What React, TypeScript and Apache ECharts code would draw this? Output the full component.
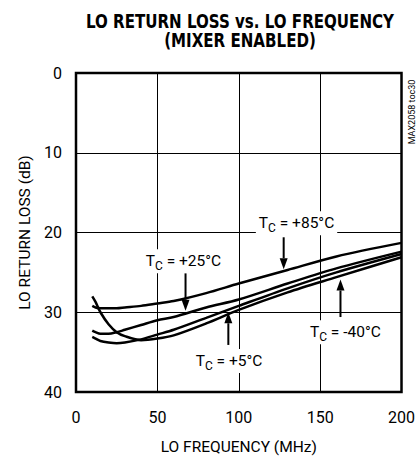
import React, { useEffect, useRef } from "react";
import * as echarts from "echarts";

const freqMHz = [10, 12, 15, 20, 25, 30, 40, 50, 60, 80, 100, 130, 160, 200];
const rlPlus85 = [29.2, 29.4, 29.5, 29.5, 29.5, 29.4, 29.2, 28.9, 28.6, 27.6, 26.4, 24.7, 23.0, 21.3];
const rlPlus25 = [32.3, 32.5, 32.7, 32.7, 32.5, 32.2, 31.6, 31.0, 30.6, 29.4, 28.4, 26.4, 24.5, 22.4];
const rlPlus5 = [33.1, 33.3, 33.6, 33.8, 33.9, 33.8, 33.4, 32.8, 32.2, 30.7, 29.2, 27.0, 25.0, 22.7];
const rlMinus40 = [28.0, 28.7, 30.0, 31.5, 32.5, 33.0, 33.5, 33.3, 32.9, 31.4, 29.7, 27.5, 25.6, 23.1];

const seriesNames = ["TC = +85°C", "TC = +25°C", "TC = +5°C", "TC = -40°C"];
const tempLabels = ["+85°C", "+25°C", "+5°C", "-40°C"];
const titleLines = ["LO RETURN LOSS vs. LO FREQUENCY", "(MIXER ENABLED)"];

// annotation anchors in data units: label center, arrow start, arrow tip
const annotations = [
  { label: [135.5, 18.85], from: [127.6, 20.6], to: [127.6, 24.6] },
  { label: [66, 23.6], from: [67.3, 25.1], to: [67.3, 29.8] },
  { label: [94, 36.1], from: [93.6, 34.1], to: [93.6, 30.0] },
  { label: [165.5, 32.5], from: [162.5, 30.6], to: [162.5, 25.9] },
];

const FONT = "Roboto, 'DejaVu Sans Condensed', sans-serif";
const TITLE_FONT = "'DejaVu Sans Condensed', 'DejaVu Sans', sans-serif";

export default function App() {
  const ref = useRef<HTMLDivElement>(null);
  useEffect(() => {
    if (!ref.current) return;
    const chart = echarts.init(ref.current, undefined, { renderer: "svg" });
    const allSeries = [rlPlus85, rlPlus25, rlPlus5, rlMinus40];
    chart.setOption({
      animation: false,
      backgroundColor: "#fff",
      grid: { left: 76, top: 73, width: 329, height: 329, show: true, borderColor: "#000", borderWidth: 2.5, backgroundColor: "transparent" },
      xAxis: {
        type: "value",
        min: 0,
        max: 200,
        interval: 50,
        name: "LO FREQUENCY (MHz)",
        nameLocation: "middle",
        nameGap: 47,
        nameTextStyle: { fontFamily: FONT, fontSize: 15.5, color: "#000" },
        axisLine: { show: false },
        axisTick: { show: false },
        axisLabel: { fontFamily: FONT, fontSize: 16, color: "#000", margin: 17 },
        splitLine: { show: true, lineStyle: { color: "#000", width: 1 } },
      },
      yAxis: {
        type: "value",
        inverse: true,
        min: 0,
        max: 40,
        interval: 10,
        name: "LO RETURN LOSS (dB)",
        nameLocation: "middle",
        nameGap: 41,
        nameTextStyle: { fontFamily: FONT, fontSize: 15.5, color: "#000" },
        axisLine: { show: false },
        axisTick: { show: false },
        axisLabel: { fontFamily: FONT, fontSize: 16, color: "#000", margin: 14 },
        splitLine: { show: true, lineStyle: { color: "#000", width: 1 } },
      },
      series: allSeries.map((vals, i) => ({
        name: seriesNames[i],
        type: "line",
        smooth: 0.3,
        showSymbol: false,
        lineStyle: { color: "#000", width: 2.5 },
        data: freqMHz.map((f, j) => [f, vals[j]]),
        z: 3,
      })),
    });

    const px = (p: number[]) => chart.convertToPixel({ gridIndex: 0 }, p) as number[];
    const graphics: any[] = [];
    titleLines.forEach((line, i) => {
      graphics.push({
        type: "text",
        x: 240,
        y: 21 + i * 19,
        scaleX: 0.86,
        style: { text: line, fontFamily: TITLE_FONT, fontWeight: "bold", fontSize: 19.5, fill: "#000", align: "center", verticalAlign: "middle" },
      });
    });
    annotations.forEach((a, i) => {
      const c = px(a.label);
      const s = px(a.from);
      const t = px(a.to);
      const dir = t[1] > s[1] ? 1 : -1;
      const headLen = 11;
      const headW = 4;
      graphics.push({
        type: "line",
        z: 10,
        shape: { x1: s[0], y1: s[1], x2: t[0], y2: t[1] - dir * headLen },
        style: { stroke: "#000", lineWidth: 2 },
      });
      graphics.push({
        type: "polygon",
        z: 10,
        shape: { points: [[t[0], t[1]], [t[0] - headW, t[1] - dir * headLen], [t[0] + headW, t[1] - dir * headLen]] },
        style: { fill: "#000" },
      });
      graphics.push({
        type: "text",
        z: 11,
        x: c[0],
        y: c[1],
        style: {
          text: "{t|T}{s|C}{t| = " + tempLabels[i] + "}",
          align: "center",
          verticalAlign: "middle",
          backgroundColor: "#fff",
          padding: [1, 3, 1, 3],
          rich: {
            t: { fontFamily: FONT, fontSize: 15.5, fill: "#000", lineHeight: 22, verticalAlign: "middle" },
            s: { fontFamily: FONT, fontSize: 12, fill: "#000", lineHeight: 12, verticalAlign: "bottom", padding: [9, 0, 0, 0] },
          },
        },
      });
    });
    graphics.push({
      type: "text",
      x: 412,
      y: 112,
      rotation: Math.PI / 2,
      style: { text: "MAX2058 toc30", fontFamily: FONT, fontSize: 9, fill: "#000", align: "center", verticalAlign: "middle" },
    });
    chart.setOption({ graphic: graphics });
    return () => chart.dispose();
  }, []);
  return <div ref={ref} style={{ position: "fixed", left: 0, top: 0, width: 418, height: 460 }} />;
}
